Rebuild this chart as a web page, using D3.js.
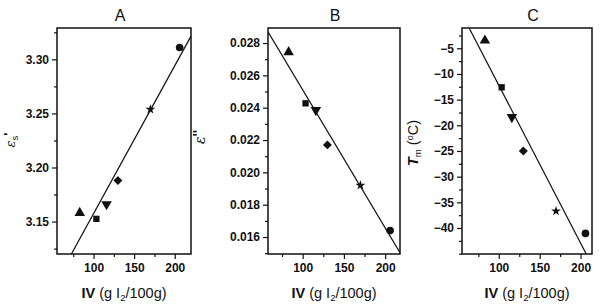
<!DOCTYPE html>
<html><head><meta charset="utf-8">
<script src="https://cdn.jsdelivr.net/npm/d3@7"></script>
<style>
body{margin:0;background:#fff;}
svg{display:block;font-family:"Liberation Sans",Arial,sans-serif;}
</style></head>
<body><svg id="c" width="600" height="306"></svg>
<script>
// Data
const iv = [83, 103.5, 116, 130, 170, 206];            // iodine value (g I2/100g)
const symbols = ["triangle","square","triangleDown","diamond","star","circle"];
const epsS = [3.158, 3.1525, 3.166, 3.188, 3.2537, 3.311];   // panel A
const epsPP = [0.02744, 0.02427, 0.02385, 0.0217, 0.0192, 0.0164]; // panel B
const tm = [-3.5, -12.6, -18.4, -25.0, -36.7, -41.05];       // panel C
const titles = ["A","B","C"];
const xTicks = [100, 150, 200];
const xMinor = [75, 125, 175];
const yTicksA = [3.15, 3.20, 3.25, 3.30];
const yTicksB = [0.016, 0.018, 0.020, 0.022, 0.024, 0.026, 0.028];
const yTicksC = [-40, -35, -30, -25, -20, -15, -10, -5];

const svg = d3.select("#c");
const panels = [
  {t:titles[0], y:epsS, xd:[55,220], yd:[3.12,3.329], ticks:yTicksA, minorStep:0.025, fmt:d3.format(".2f"),
   box:[57,191,28,254], title:[120,17]},
  {t:titles[1], y:epsPP, xd:[58,218], yd:[0.01495,0.02893], ticks:yTicksB, minorStep:0.001, fmt:d3.format(".3f"),
   box:[268,400,28,254], title:[335,17]},
  {t:titles[2], y:tm, xd:[55,214], yd:[-45.06,-1.05], ticks:yTicksC, minorStep:2.5, fmt:d3.format("d"),
   box:[462,592,28,254], title:[533,17]}
];

function symPath(name, size){
  const map = {triangle:d3.symbolTriangle, square:d3.symbolSquare, diamond:d3.symbolSquare,
               star:d3.symbolStar, circle:d3.symbolCircle, triangleDown:d3.symbolTriangle};
  return d3.symbol(map[name], size)();
}
const rot = {triangleDown:" rotate(180)", diamond:" rotate(45)"};

panels.forEach((p,pi)=>{
  const [L,R,T,B] = p.box;
  const x = d3.scaleLinear().domain(p.xd).range([L,R]);
  const y = d3.scaleLinear().domain(p.yd).range([B,T]);
  const g = svg.append("g");

  g.append("text").attr("x",p.title[0]).attr("y",p.title[1]+4).attr("text-anchor","middle")
    .attr("font-size",16).attr("fill","#111").text(p.t);

  const minors = [];
  const st = p.minorStep;
  for(let v=Math.ceil(p.yd[0]/st)*st; v<=p.yd[1]+1e-12; v+=st){
    const isMajor = p.ticks.some(t=>Math.abs(t-v)<st*0.01);
    if(!isMajor) minors.push(v);
  }
  const yAxis = d3.axisLeft(y).tickValues(p.ticks).tickFormat(p.fmt).tickSize(5).tickPadding(3);
  const ya = g.append("g").attr("transform",`translate(${L},0)`).call(yAxis);
  ya.select(".domain").remove();
  ya.selectAll("text").attr("font-size",12).attr("font-weight","bold").attr("fill","#111")
    .attr("font-family",'"Liberation Sans",Arial,sans-serif');
  ya.selectAll("line").attr("stroke","#111").attr("stroke-width",1.2);
  const yMin = d3.axisLeft(y).tickValues(minors).tickFormat("").tickSize(3);
  const ym = g.append("g").attr("transform",`translate(${L},0)`).call(yMin);
  ym.select(".domain").remove();
  ym.selectAll("line").attr("stroke","#111").attr("stroke-width",1.2);

  const xAxis = d3.axisBottom(x).tickValues(xTicks).tickFormat(d3.format("d")).tickSize(5).tickPadding(4);
  const xa = g.append("g").attr("transform",`translate(0,${B})`).call(xAxis);
  xa.select(".domain").remove();
  xa.selectAll("text").attr("font-size",12).attr("font-weight","bold").attr("fill","#111")
    .attr("font-family",'"Liberation Sans",Arial,sans-serif');
  xa.selectAll("line").attr("stroke","#111").attr("stroke-width",1.2);
  const xMinAx = d3.axisBottom(x).tickValues(xMinor).tickFormat("").tickSize(3);
  const xm = g.append("g").attr("transform",`translate(0,${B})`).call(xMinAx);
  xm.select(".domain").remove();
  xm.selectAll("line").attr("stroke","#111").attr("stroke-width",1.2);

  g.append("rect").attr("x",L).attr("y",T).attr("width",R-L).attr("height",B-T)
    .attr("fill","none").attr("stroke","#111").attr("stroke-width",1.5);

  // least-squares fit line computed from the data
  const mx = d3.mean(iv), my = d3.mean(p.y);
  let sxy=0, sxx=0;
  iv.forEach((xv,i)=>{ sxy += (xv-mx)*(p.y[i]-my); sxx += (xv-mx)*(xv-mx); });
  const slope = sxy/sxx, icpt = my - slope*mx;
  const cid = "clip"+pi;
  svg.append("clipPath").attr("id",cid).append("rect").attr("x",L).attr("y",T).attr("width",R-L).attr("height",B-T);
  g.append("line").attr("clip-path",`url(#${cid})`)
    .attr("x1",x(p.xd[0])).attr("y1",y(icpt+slope*p.xd[0]))
    .attr("x2",x(p.xd[1])).attr("y2",y(icpt+slope*p.xd[1]))
    .attr("stroke","#111").attr("stroke-width",1.2);

  const sizes = {triangle:48, square:40, triangleDown:48, diamond:40, star:30, circle:46};
  g.selectAll("path.pt").data(iv).enter().append("path").attr("class","pt")
    .attr("d",(d,i)=>symPath(symbols[i], sizes[symbols[i]]))
    .attr("transform",(d,i)=>`translate(${x(d)},${y(p.y[i])})${rot[symbols[i]]||""}`)
    .attr("fill","#111");

  const xl = g.append("text").attr("x",(L+R)/2).attr("y",298).attr("text-anchor","middle").attr("font-size",14.5).attr("fill","#111");
  xl.append("tspan").attr("font-weight","bold").text("IV");
  xl.append("tspan").text(" (g I");
  xl.append("tspan").attr("font-size",9.5).attr("dy",3).text("2");
  xl.append("tspan").attr("dy",-3).text("/100g)");
});

const yl1 = svg.append("text").attr("transform","translate(15,140) rotate(-90)").attr("text-anchor","middle").attr("font-size",13).attr("fill","#111");
yl1.append("tspan").attr("font-style","italic").attr("font-family","'DejaVu Serif',serif").text("ε");
yl1.append("tspan").attr("font-size",9.5).attr("dy",3).text("s");
yl1.append("tspan").attr("dy",-5).attr("font-weight","bold").text("'");

const yl2 = svg.append("text").attr("transform","translate(205,137) rotate(-90)").attr("text-anchor","middle").attr("font-size",14).attr("fill","#111");
yl2.append("tspan").attr("font-style","italic").attr("font-family","'DejaVu Serif',serif").text("ε");
yl2.append("tspan").attr("font-weight","bold").attr("dy",-2).text("''");

const yl3 = svg.append("text").attr("transform","translate(418,143) rotate(-90)").attr("text-anchor","middle").attr("font-size",14.5).attr("fill","#111");
yl3.append("tspan").attr("font-style","italic").attr("font-weight","bold").text("T");
yl3.append("tspan").attr("font-size",9.5).attr("dy",3).text("m");
yl3.append("tspan").attr("dy",-3).text(" (");
yl3.append("tspan").attr("font-size",9).attr("dy",-5).text("o");
yl3.append("tspan").attr("dy",5).text("C)");
</script></body></html>
